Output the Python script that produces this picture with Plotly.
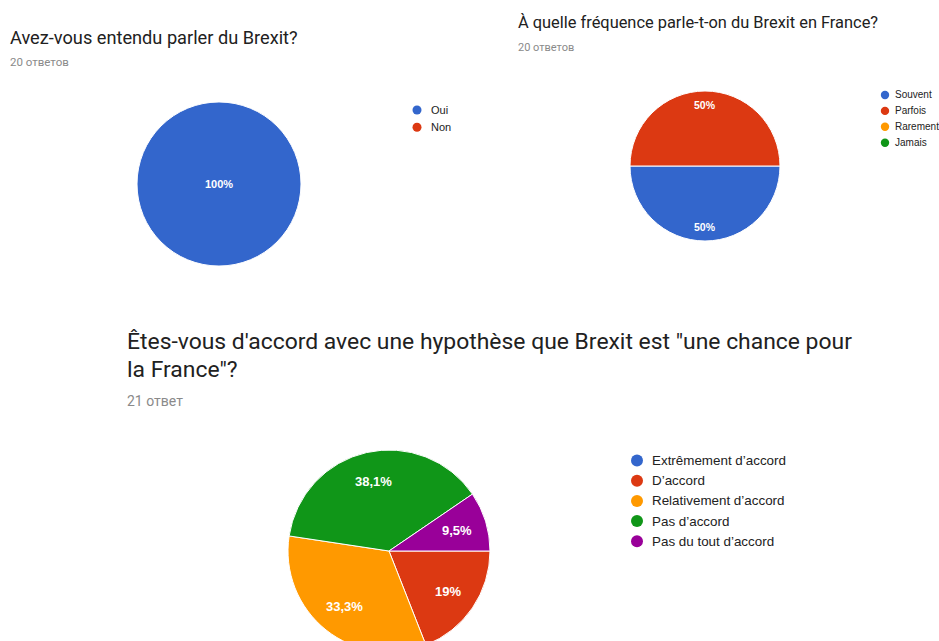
import math
import plotly.graph_objects as go

# ---------------- data ----------------
q1_title = "Avez-vous entendu parler du Brexit?"
q1_count = "20 ответов"
q1_labels = ["Oui", "Non"]
q1_values = [20, 0]

q2_title = "À quelle fréquence parle-t-on du Brexit en France?"
q2_count = "20 ответов"
q2_labels = ["Souvent", "Parfois", "Rarement", "Jamais"]
q2_values = [10, 10, 0, 0]

q3_title_l1 = "Êtes-vous d'accord avec une hypothèse que Brexit est \"une chance pour"
q3_title_l2 = "la France\"?"
q3_count = "21 ответ"
q3_labels = ["Extrêmement d’accord", "D’accord", "Relativement d’accord",
             "Pas d’accord", "Pas du tout d’accord"]
q3_values = [0, 4, 7, 8, 2]

palette = ["#3366CC", "#DC3912", "#FF9900", "#109618", "#990099"]

# ---------------- layout helpers ----------------
W, H = 939, 656

def fx(px):
    return px / W

def fy(py):
    return 1 - py / H

def domain(cx, cy, r):
    return dict(x=[fx(cx - r), fx(cx + r)], y=[fy(cy + r), fy(cy - r)])

def pct_text(v, total):
    s = f"{round(100 * v / total, 1):.1f}".rstrip("0").rstrip(".")
    return s.replace(".", ",") + "%"

TITLE_FONT = "Roboto, Arial, sans-serif"
CHART_FONT = "Arial, Liberation Sans, sans-serif"

fig = go.Figure()
annotations = []
shapes = []

def text(x, y, s, size, color, family=TITLE_FONT, anchor="left"):
    annotations.append(dict(x=fx(x), y=fy(y), xref="paper", yref="paper",
                            text=s, showarrow=False, xanchor=anchor,
                            yanchor="middle",
                            font=dict(family=family, size=size, color=color)))

# (labels, values, centre/radius in px, label font size, label radius factor)
pies = [
    (q1_labels, q1_values, (219, 184, 82), 11, 0.8),
    (q2_labels, q2_values, (705, 166, 75), 10.5, 0.81),
    (q3_labels, q3_values, (389, 551, 101), 13, 0.705),
]
for labels, values, (cx, cy, r), fs, k in pies:
    fig.add_trace(go.Pie(
        labels=labels, values=values, sort=False, direction="clockwise",
        rotation=90,
        marker=dict(colors=palette[:len(labels)],
                    line=dict(color="white",
                              width=[1 if v > 0 else 0 for v in values])),
        textinfo="none", domain=domain(cx, cy, r), showlegend=False,
        hoverinfo="label+percent",
    ))
    # slice labels (Google-Forms style placement, clockwise from 3 o'clock)
    total = sum(values)
    cum = 0
    for v in values:
        if v > 0:
            if v == total:
                lx, ly = cx, cy
            else:
                a = 2 * math.pi * (cum + v / 2) / total
                lx, ly = cx + k * r * math.cos(a), cy + k * r * math.sin(a)
            text(lx, ly, "<b>" + pct_text(v, total) + "</b>", fs, "white",
                 CHART_FONT, anchor="center")
        cum += v

# titles
text(8, 37, q1_title, 18.2, "#212121")
text(8, 62, q1_count, 11.5, "#8a8a8a")
text(516, 22, q2_title, 16.4, "#212121")
text(516, 47, q2_count, 11, "#8a8a8a")
text(125, 341, q3_title_l1, 22.9, "#212121")
text(125, 370, q3_title_l2, 22.9, "#212121")
text(125, 401, q3_count, 14, "#8a8a8a")

# custom legends (circle markers)
legends = [
    (q1_labels, (417, 110), 17.3, 4.5, 429, 11),
    (q2_labels, (885, 95), 15.9, 4.2, 893, 10),
    (q3_labels, (637, 460.5), 20.2, 6, 650, 13.4),
]
for labels, (mx, my0), step, rad, tx, fs in legends:
    for i, lab in enumerate(labels):
        y = my0 + i * step
        shapes.append(dict(type="circle", xref="paper", yref="paper",
                           xsizemode="pixel", ysizemode="pixel",
                           xanchor=fx(mx), yanchor=fy(y),
                           x0=-rad, x1=rad, y0=-rad, y1=rad,
                           fillcolor=palette[i], line=dict(width=0)))
        text(tx, y, lab, fs, "#222222", CHART_FONT)

fig.update_layout(
    width=W, height=H, margin=dict(l=0, r=0, t=0, b=0),
    paper_bgcolor="white", plot_bgcolor="white",
    annotations=annotations, shapes=shapes,
)

fig.write_html("out.html", config={"displayModeBar": False},
               post_script="document.body.style.margin='0';"
                           "document.body.style.overflow='hidden';"
                           "document.documentElement.style.overflow='hidden';")
